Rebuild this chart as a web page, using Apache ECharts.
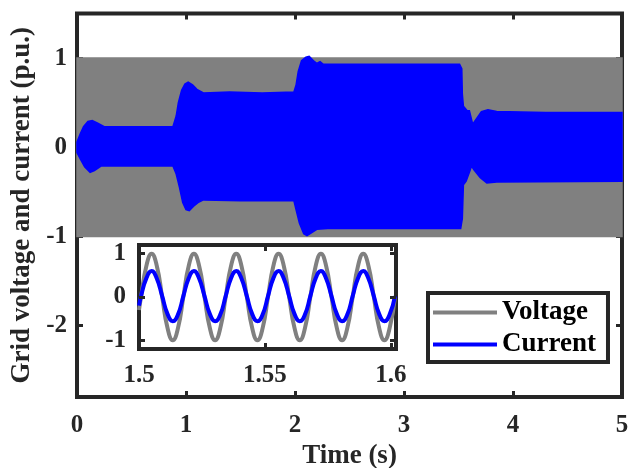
<!DOCTYPE html>
<html><head><meta charset="utf-8">
<script src="https://cdn.jsdelivr.net/npm/echarts@6/dist/echarts.min.js"></script>
<style>html,body{margin:0;padding:0;background:#fff}#c{width:629px;height:468px}</style>
</head><body><div id="c"></div>
<script>
// ---- Data ----
var xTicks = [0, 1, 2, 3, 4, 5];
var yTicks = [-2, -1, 0, 1];
var insetXTicks = [1.5, 1.55, 1.6];
var insetYTicks = [-1, 0, 1];

// Grid voltage envelope (dense 60 Hz waveform, drawn as its envelope)
var voltageEnvTime  = [0, 5];
var voltageEnvUpper = [1, 1];
var voltageEnvLower = [-1, -1];

// Current envelope: upper edge
var currentUpperTime = [0, 0.03, 0.06, 0.10, 0.14, 0.19, 0.25, 0.5, 0.88, 0.91, 0.93, 0.96, 0.99, 1.02, 1.06, 1.10, 1.16, 1.4, 1.7, 1.99, 2.01, 2.03, 2.06, 2.10, 2.13, 2.17, 2.20, 2.23, 2.26, 2.5, 3.0, 3.51, 3.53, 3.535, 3.545, 3.58, 3.60, 3.63, 3.67, 3.71, 3.77, 3.85, 4.3, 5.0];
var currentUpperVal  = [0.06, 0.15, 0.23, 0.29, 0.30, 0.27, 0.23, 0.23, 0.23, 0.35, 0.50, 0.64, 0.71, 0.73, 0.70, 0.65, 0.61, 0.62, 0.61, 0.62, 0.70, 0.85, 0.97, 1.01, 1.02, 0.97, 0.94, 0.96, 0.93, 0.93, 0.93, 0.93, 0.88, 0.60, 0.46, 0.41, 0.41, 0.26, 0.33, 0.40, 0.42, 0.40, 0.39, 0.39];
// Current envelope: lower edge
var currentLowerTime = [0, 0.03, 0.07, 0.12, 0.16, 0.22, 0.5, 0.88, 0.91, 0.94, 0.97, 1.00, 1.03, 1.07, 1.11, 1.16, 1.5, 1.99, 2.01, 2.04, 2.08, 2.11, 2.15, 2.20, 2.30, 3.0, 3.52, 3.535, 3.545, 3.57, 3.60, 3.62, 3.64, 3.70, 3.76, 3.85, 5.0];
var currentLowerVal  = [-0.06, -0.13, -0.22, -0.28, -0.26, -0.21, -0.21, -0.21, -0.30, -0.45, -0.62, -0.70, -0.71, -0.66, -0.62, -0.59, -0.60, -0.60, -0.70, -0.85, -0.97, -0.99, -0.96, -0.92, -0.91, -0.91, -0.91, -0.80, -0.42, -0.38, -0.28, -0.21, -0.25, -0.34, -0.40, -0.39, -0.38];

// Inset (zoom 1.5 s - 1.6 s)
var insetTime = [1.5000, 1.5008, 1.5029, 1.5050, 1.5071, 1.5092, 1.5113, 1.5134, 1.5155, 1.5176, 1.5197, 1.5218, 1.5239, 1.5260, 1.5281, 1.5302, 1.5323, 1.5344, 1.5365, 1.5386, 1.5407, 1.5428, 1.5449, 1.5470, 1.5491, 1.5512, 1.5533, 1.5554, 1.5575, 1.5596, 1.5617, 1.5638, 1.5659, 1.5680, 1.5701, 1.5722, 1.5743, 1.5764, 1.5785, 1.5806, 1.5827, 1.5848, 1.5869, 1.5890, 1.5911, 1.5932, 1.5953, 1.5974, 1.5995, 1.6016];
var insetVoltage = [-0.3, 0, 0.71, 1, 0.71, 0, -0.71, -1, -0.71, 0, 0.71, 1, 0.71, 0, -0.71, -1, -0.71, 0, 0.71, 1, 0.71, 0, -0.71, -1, -0.71, 0, 0.71, 1, 0.71, 0, -0.71, -1, -0.71, 0, 0.71, 1, 0.71, 0, -0.71, -1, -0.71, 0, 0.71, 1, 0.71, 0, -0.71, -1, -0.71, 0];
var insetCurrent = [-0.2, 0.02, 0.43, 0.60, 0.42, 0.02, -0.39, -0.56, -0.40, 0.02, 0.43, 0.60, 0.42, 0.02, -0.39, -0.56, -0.40, 0.02, 0.43, 0.60, 0.42, 0.02, -0.39, -0.56, -0.40, 0.02, 0.43, 0.60, 0.42, 0.02, -0.39, -0.56, -0.40, 0.02, 0.43, 0.60, 0.42, 0.02, -0.39, -0.56, -0.40, 0.02, 0.43, 0.60, 0.42, 0.02, -0.39, -0.56, -0.40, 0.02];

// ---- Chart ----
var FONT = 'Liberation Serif';
var INK = '#262626';
var GRAY = '#808080';
var BLUE = '#0000FF';

function pairs(xs, ys) { var out = []; for (var i = 0; i < xs.length; i++) out.push([xs[i], ys[i]]); return out; }

function bandRenderer(tu, vu, tl, vl, color) {
  return function (params, api) {
    var pts = [];
    for (var i = 0; i < tu.length; i++) pts.push(api.coord([tu[i], vu[i]]));
    for (var j = tl.length - 1; j >= 0; j--) pts.push(api.coord([tl[j], vl[j]]));
    return { type: 'polygon', shape: { points: pts }, style: { fill: color, stroke: color, lineWidth: 1.5 } };
  };
}

var tickStyle = { show: true, inside: true, length: 6, lineStyle: { color: INK, width: 3 } };
var labelStyle = { color: INK, fontFamily: FONT, fontWeight: 'bold', fontSize: 25 };
var noLine = { show: false, onZero: false };

var chart = echarts.init(document.getElementById('c'), null, { renderer: 'canvas' });
chart.setOption({
  animation: false,
  backgroundColor: '#fff',
  grid: [
    { left: 77, top: 13.5, width: 545, height: 383.5, show: true, borderColor: INK, borderWidth: 4, backgroundColor: 'transparent', z: 0,
      containLabel: false, outerBoundsMode: 'none' },
    { left: 139, top: 245, width: 257, height: 104, show: true, borderColor: INK, borderWidth: 4, backgroundColor: '#fff', z: 3,
      containLabel: false, outerBoundsMode: 'none' }
  ],
  legend: {
    data: ['Voltage', 'Current'],
    orient: 'vertical', left: 428, top: 293,
    padding: [6, 12, 4, 5], itemGap: 5,
    icon: 'rect', itemWidth: 64, itemHeight: 4,
    textStyle: { color: '#000', fontFamily: FONT, fontWeight: 'bold', fontSize: 27 },
    borderColor: INK, borderWidth: 4, backgroundColor: '#fff',
    selectedMode: false, z: 10
  },
  xAxis: [
    { type: 'value', gridIndex: 0, min: 0, max: 5, interval: 1, position: 'bottom',
      axisLine: noLine, splitLine: { show: false }, axisTick: tickStyle,
      axisLabel: Object.assign({ margin: 16 }, labelStyle),
      name: 'Time (s)', nameLocation: 'middle', nameGap: 44,
      nameTextStyle: { color: INK, fontFamily: FONT, fontWeight: 'bold', fontSize: 27 } },
    { type: 'value', gridIndex: 0, min: 0, max: 5, interval: 1, position: 'top',
      axisLine: noLine, splitLine: { show: false }, axisTick: tickStyle, axisLabel: { show: false } },
    { type: 'value', gridIndex: 1, min: 1.5, max: 1.602, position: 'bottom', z: 5,
      axisLine: noLine, splitLine: { show: false },
      axisTick: Object.assign({ customValues: insetXTicks }, tickStyle),
      axisLabel: Object.assign({ margin: 14, customValues: insetXTicks }, labelStyle) },
    { type: 'value', gridIndex: 1, min: 1.5, max: 1.602, position: 'top', z: 5,
      axisLine: noLine, splitLine: { show: false },
      axisTick: Object.assign({ customValues: insetXTicks }, tickStyle), axisLabel: { show: false } }
  ],
  yAxis: [
    { type: 'value', gridIndex: 0, min: -2.8, max: 1.5, position: 'left',
      axisLine: noLine, splitLine: { show: false },
      axisTick: Object.assign({ customValues: yTicks }, tickStyle),
      axisLabel: Object.assign({ margin: 10, customValues: yTicks }, labelStyle),
      name: 'Grid voltage and current (p.u.)', nameLocation: 'middle', nameGap: 38,
      nameTextStyle: { color: INK, fontFamily: FONT, fontWeight: 'bold', fontSize: 27 } },
    { type: 'value', gridIndex: 0, min: -2.8, max: 1.5, position: 'right',
      axisLine: noLine, splitLine: { show: false },
      axisTick: Object.assign({ customValues: yTicks }, tickStyle), axisLabel: { show: false } },
    { type: 'value', gridIndex: 1, min: -1.2, max: 1.2, position: 'left', z: 5,
      axisLine: noLine, splitLine: { show: false },
      axisTick: Object.assign({ customValues: insetYTicks }, tickStyle),
      axisLabel: Object.assign({ margin: 13, customValues: insetYTicks }, labelStyle) },
    { type: 'value', gridIndex: 1, min: -1.2, max: 1.2, position: 'right', z: 5,
      axisLine: noLine, splitLine: { show: false },
      axisTick: Object.assign({ customValues: insetYTicks }, tickStyle), axisLabel: { show: false } }
  ],
  series: [
    { type: 'custom', name: 'Voltage envelope', xAxisIndex: 0, yAxisIndex: 0, z: 1, clip: false,
      data: [[0, 0]], renderItem: bandRenderer(voltageEnvTime, voltageEnvUpper, voltageEnvTime, voltageEnvLower, GRAY) },
    { type: 'custom', name: 'Current envelope', xAxisIndex: 0, yAxisIndex: 0, z: 1, clip: false,
      data: [[0, 0]], renderItem: bandRenderer(currentUpperTime, currentUpperVal, currentLowerTime, currentLowerVal, BLUE) },
    { type: 'line', name: 'Voltage', xAxisIndex: 2, yAxisIndex: 2, z: 4, smooth: 0.5, showSymbol: false,
      color: GRAY, lineStyle: { color: GRAY, width: 4 }, itemStyle: { color: GRAY },
      data: pairs(insetTime, insetVoltage) },
    { type: 'line', name: 'Current', xAxisIndex: 2, yAxisIndex: 2, z: 4, smooth: 0.5, showSymbol: false,
      color: BLUE, lineStyle: { color: BLUE, width: 4 }, itemStyle: { color: BLUE },
      data: pairs(insetTime, insetCurrent) }
  ]
});
</script></body></html>
